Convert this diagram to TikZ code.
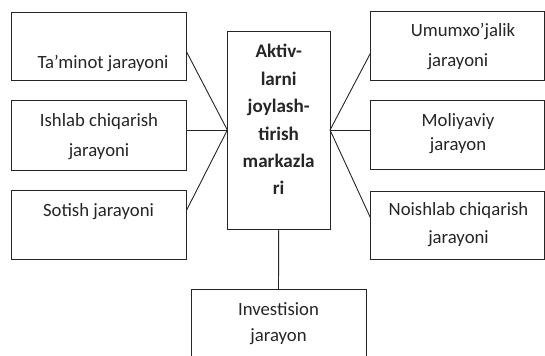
\documentclass[tikz,border=0pt]{standalone}
\usepackage{fontspec}
\setmainfont{Carlito}
\begin{document}
\begin{tikzpicture}[x=1bp,y=-1bp,
  box/.style={draw=black!85, line width=0.9bp, inner sep=0, outer sep=0},
  conn/.style={draw=black!85, line width=0.9bp},
  txt/.style={anchor=base, inner sep=0, font=\fontsize{18.8}{22}\selectfont, text=black!85},
  btxt/.style={anchor=base, inner sep=0, font=\fontsize{19.2}{22}\selectfont\bfseries, text=black!85}]
\clip (0,0) rectangle (545,355);
\fill[white] (0,0) rectangle (545,355);
% boxes
\node[box, minimum width=174.7bp, minimum height=68bp] (l1) at (99.3,46) {};
\node[box, minimum width=174.7bp, minimum height=69.3bp] (l2) at (99.3,135.3) {};
\node[box, minimum width=174.7bp, minimum height=68.3bp] (l3) at (99.3,224.8) {};
\node[box, minimum width=102.7bp, minimum height=198bp] (c) at (278.7,130) {};
\node[box, minimum width=173.6bp, minimum height=69bp] (r1) at (457.5,45.5) {};
\node[box, minimum width=173.6bp, minimum height=68.8bp] (r2) at (457.5,135.1) {};
\node[box, minimum width=173.6bp, minimum height=68bp] (r3) at (457.5,225) {};
\node[box, minimum width=175bp, minimum height=81bp] (b) at (278.5,329.5) {};
% connectors
\draw[conn] ([yshift=-6bp]l1.east) -- (c.west);
\draw[conn] (c.west -| l2.east) -- (c.west);
\draw[conn] ([yshift=14.8bp]l3.east) -- (c.west);
\draw[conn] (c.east) -- ([yshift=-7.2bp]r1.west);
\draw[conn] (c.east) -- (c.east -| r2.west);
\draw[conn] (c.east) -- ([yshift=6.7bp]r3.west);
\draw[conn] (c.south) -- (b.north);
% texts
\node[txt] (t1) at (103,68) {Ta’minot jarayoni};
\node[txt] (t2a) at (99,126.7) {Ishlab chiqarish};
\node[txt] (t2b) at (99,156.7) {jarayoni};
\node[txt] (t3) at (98.5,216.7) {Sotish jarayoni};
\node[txt] (t4a) at (463,36.7) {Umumxo’jalik};
\node[txt] (t4b) at (458,66.7) {jarayoni};
\node[txt] (t5a) at (458,126.7) {Moliyaviy};
\node[txt] (t5b) at (458,150.7) {jarayon};
\node[txt] (t6a) at (458.5,215) {Noishlab chiqarish};
\node[txt] (t6b) at (458.5,243.3) {jarayoni};
\node[txt] (t7a) at (278.5,315) {Investision};
\node[txt] (t7b) at (278.5,341.7) {jarayon};
\node[btxt] (ca) at (278.7,57) {Aktiv-};
\node[btxt] (cb) at (278.7,85) {larni};
\node[btxt] (cc) at (278.7,112) {joylash-};
\node[btxt] (cd) at (278.7,140) {tirish};
\node[btxt] (ce) at (278.7,167) {markazla};
\node[btxt] (cf) at (278.7,194) {ri};
\end{tikzpicture}
\end{document}
